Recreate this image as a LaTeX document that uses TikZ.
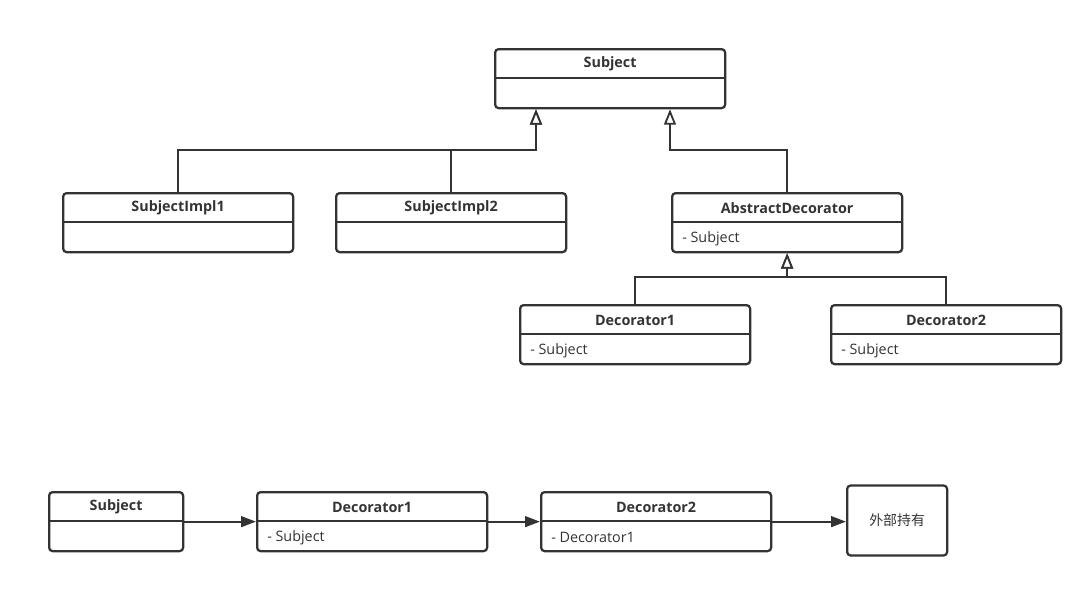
\documentclass[tikz,border=0pt]{standalone}
\usepackage{fontspec}
\setmainfont{Open Sans}
\newfontfamily\cjk{Noto Sans CJK SC}
\usepackage{tikz}
\usetikzlibrary{arrows.meta, positioning, calc}

\definecolor{umlline}{HTML}{333333}

\tikzset{
  classbox/.style={draw=umlline, line width=1.6pt, rounded corners=2.5pt,
    minimum height=59*0.025cm, inner sep=0pt, anchor=north west},
  divider/.style={draw=umlline, line width=1.6pt},
  classtitle/.style={text=umlline, font=\fontsize{10.2}{12}\selectfont\bfseries},
  classattr/.style={text=umlline, anchor=west, inner sep=0pt,
    font=\fontsize{10.2}{12}\selectfont},
  inherit/.style={draw=umlline, line width=1.6pt,
    -{Triangle[open, length=11pt, width=8.5pt, line width=1.3pt, fill=white]}},
  assoc/.style={draw=umlline, line width=1.6pt,
    -{Triangle[length=10.5pt, width=7.5pt]}}
}

% class box: name, x, y, width (px), title, attribute
\newcommand{\umlclass}[6]{%
  \node[classbox, minimum width=#4*0.025cm] (#1) at (#2,#3) {};
  \draw[divider] ($(#1.north west)+(0,30)$) -- ($(#1.north east)+(0,30)$);
  \node[classtitle] (#1-t) at ($(#1.north)+(0,16)$) {#5};
  \node[classattr] (#1-a) at ($(#1.north west)+(11,46.5)$) {#6};
}

\begin{document}
\begin{tikzpicture}[x=0.025cm, y=-0.025cm]
  \useasboundingbox (0,0) rectangle (1092,588);

  % --- hierarchy ---
  \umlclass{subject}{494}{48}{230}{Subject}{}
  \umlclass{impl1}{62}{192}{230}{SubjectImpl1}{}
  \umlclass{impl2}{335}{192}{230}{SubjectImpl2}{}
  \umlclass{absdec}{671}{192}{230}{AbstractDecorator}{- Subject}
  \umlclass{dec1}{519}{304}{230}{Decorator1}{- Subject}
  \umlclass{dec2}{830}{304}{230}{Decorator2}{- Subject}

  \coordinate (subj-in1) at ($(subject.south west)+(42,0)$);
  \coordinate (subj-in2) at ($(subject.south west)+(176,0)$);

  \draw[inherit] (impl1.north) -- ++(0,-42) -| (subj-in1);
  \draw[inherit] (impl2.north) -- ++(0,-42) -| (subj-in1);
  \draw[inherit] (absdec.north) -- ++(0,-42) -| (subj-in2);
  \draw[inherit] (dec1.north) -- ++(0,-27) -| (absdec.south);
  \draw[inherit] (dec2.north) -- ++(0,-27) -| (absdec.south);

  % --- wrapping chain ---
  \umlclass{chsubject}{48}{491}{134}{Subject}{}
  \umlclass{chdec1}{256}{491}{230}{Decorator1}{- Subject}
  \umlclass{chdec2}{540}{491}{230}{Decorator2}{- Decorator1}
  \node[classbox, minimum width=100*0.025cm, minimum height=70*0.025cm,
    anchor=west] (holder) at (846,520.5) {};
  \node[text=umlline, font=\cjk\fontsize{9.9}{12}\selectfont]
    (holder-t) at (holder.center) {外部持有};

  \draw[assoc] (chsubject.east) -- (chdec1.west);
  \draw[assoc] (chdec1.east) -- (chdec2.west);
  \draw[assoc] (chdec2.east) -- (chdec2.east -| holder.west);
\end{tikzpicture}
\end{document}
